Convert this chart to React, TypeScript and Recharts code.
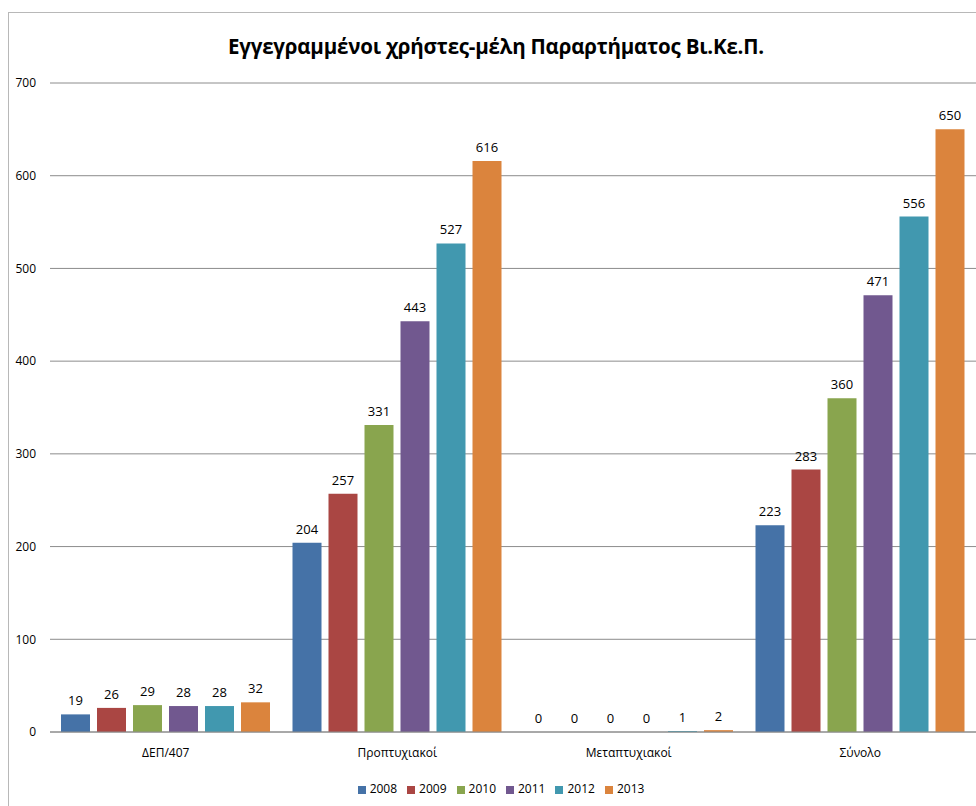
import { BarChart, Bar, XAxis, YAxis, CartesianGrid, Legend, LabelList } from 'recharts'

const categories = ['ΔΕΠ/407', 'Προπτυχιακοί', 'Μεταπτυχιακοί', 'Σύνολο']
const years = ['2008', '2009', '2010', '2011', '2012', '2013']
const v2008 = [19, 204, 0, 223]
const v2009 = [26, 257, 0, 283]
const v2010 = [29, 331, 0, 360]
const v2011 = [28, 443, 0, 471]
const v2012 = [28, 527, 1, 556]
const v2013 = [32, 616, 2, 650]
const yTicks = [0, 100, 200, 300, 400, 500, 600, 700]
const colors = ['#4572A7', '#AA4643', '#89A54E', '#71588F', '#4198AF', '#DB843D']

const series = [v2008, v2009, v2010, v2011, v2012, v2013]
const data = categories.map((name, i) => {
  const row: Record<string, string | number> = { name }
  years.forEach((y, j) => { row[y] = series[j][i] })
  return row
})

const font = "'Open Sans', 'Noto Sans', sans-serif"

export default function App() {
  return (
    <div style={{ position: 'absolute', left: 0, top: 0, width: 976, height: 806, background: '#fff', overflow: 'hidden', fontFamily: font }}>
      <div style={{ position: 'absolute', left: 8, top: 12, width: 1000, height: 900, borderLeft: '1px solid #b8b8b8', borderTop: '1px solid #b8b8b8' }} />
      <div style={{ position: 'absolute', left: 0, top: 32, width: 992, textAlign: 'center', fontSize: 20.5, fontWeight: 700, color: '#000', letterSpacing: -0.2 }}>
        Εγγεγραμμένοι χρήστες-μέλη Παραρτήματος Βι.Κε.Π.
      </div>
      <div style={{ position: 'absolute', left: 0, top: 0 }}>
        <BarChart width={976} height={806} data={data} margin={{ top: 83, right: 0, left: 0, bottom: 9 }} barSize={29} barGap={7}>
          <CartesianGrid vertical={false} stroke="#8c8c8c" />
          <XAxis dataKey="name" height={48} tickLine={false} tickSize={14} stroke="#8c8c8c"
            tick={{ fill: '#000', fontSize: 12, fontFamily: font }} />
          <YAxis width={50} domain={[0, 700]} ticks={yTicks} axisLine={false} tickLine={false} tickSize={12}
            tick={{ fill: '#000', fontSize: 12, fontFamily: font }} />
          <Legend verticalAlign="bottom" iconType="square" iconSize={8}
            wrapperStyle={{ fontSize: 12, fontFamily: font, color: '#000', left: 18 }}
            formatter={(v: string) => <span style={{ color: '#000' }}>{v}</span>} />
          {years.map((y, j) => (
            <Bar key={y} dataKey={y} fill={colors[j]} isAnimationActive={false}
              minPointSize={(value: number) => (value === 0 ? 0.01 : 0)}>
              <LabelList dataKey={y} position="top" offset={9} fill="#000" fontSize={13} fontFamily={font} />
            </Bar>
          ))}
        </BarChart>
      </div>
    </div>
  )
}
